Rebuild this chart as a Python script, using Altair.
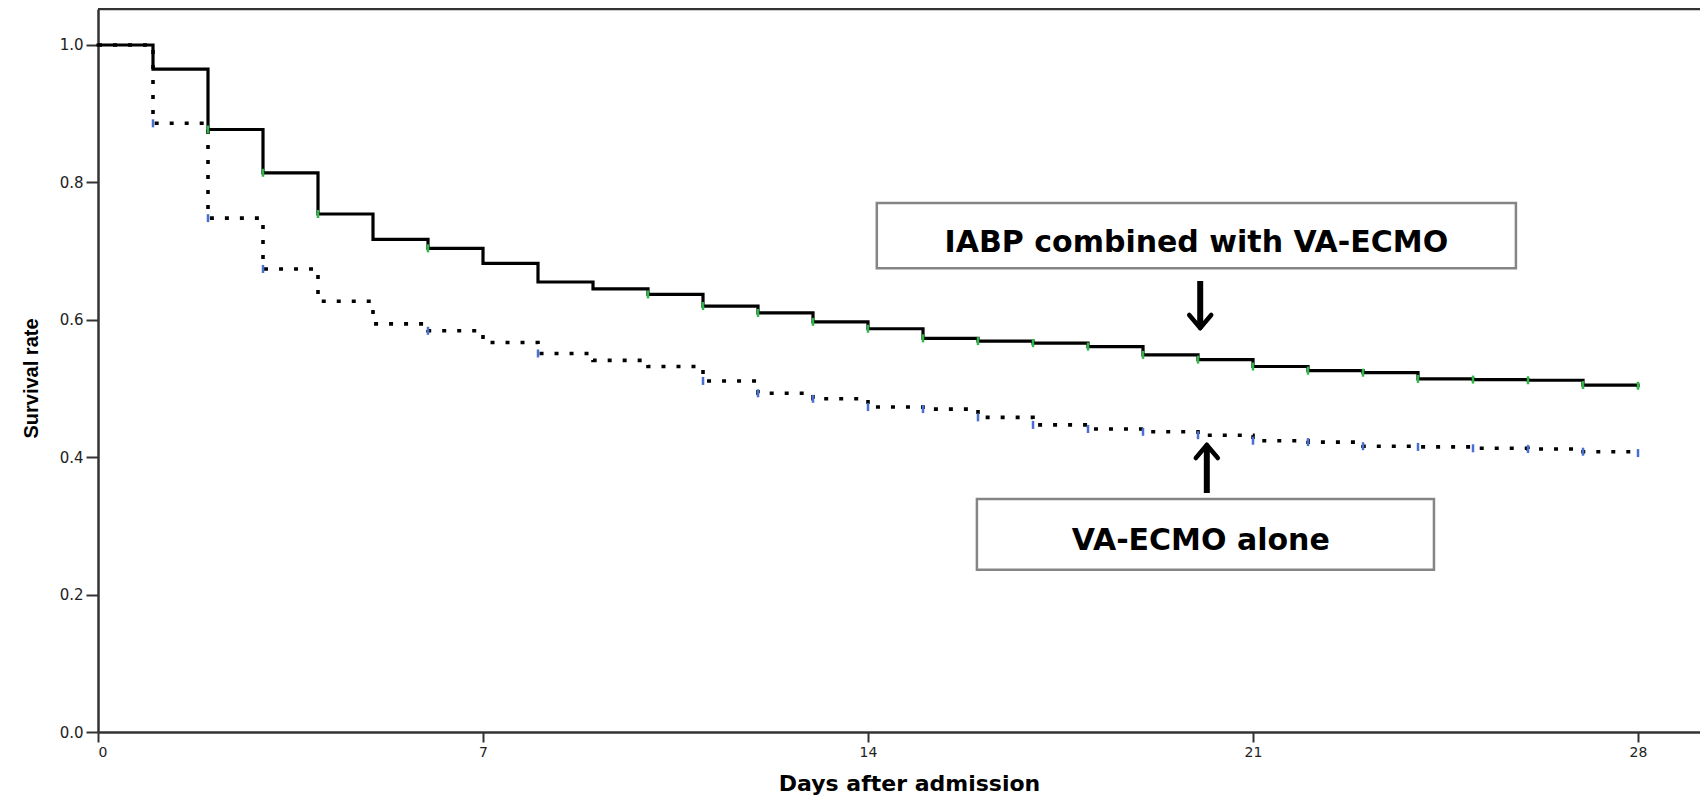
import altair as alt
import pandas as pd

# ---- data ----
days = list(range(29))
surv_combined = [1.0, 0.965, 0.877, 0.814, 0.754, 0.717, 0.704, 0.682, 0.655, 0.645,
                 0.637, 0.620, 0.610, 0.597, 0.587, 0.573, 0.569, 0.566, 0.561, 0.549,
                 0.542, 0.532, 0.526, 0.523, 0.514, 0.513, 0.512, 0.505, 0.504]
surv_alone = [1.0, 0.886, 0.748, 0.674, 0.627, 0.594, 0.584, 0.567, 0.551, 0.541,
              0.532, 0.511, 0.493, 0.485, 0.473, 0.470, 0.458, 0.447, 0.441, 0.437,
              0.432, 0.424, 0.422, 0.416, 0.415, 0.413, 0.412, 0.408, 0.406]
censor_days_combined = [2, 3, 4, 6, 10, 11, 12, 13, 14, 15, 16, 17, 18, 19, 20, 21,
                        22, 23, 24, 25, 26, 27, 28]
censor_days_alone = [1, 2, 3, 6, 8, 11, 12, 13, 14, 15, 16, 17, 18, 19, 20, 21,
                     22, 23, 24, 25, 26, 27, 28]

x_ticks = [0, 7, 14, 21, 28]
y_ticks = [0.0, 0.2, 0.4, 0.6, 0.8, 1.0]
x_domain = [0, 29.127]
y_domain = [0, 1.0524]

# annotation boxes (in data units: day, survival)
box_labels = ["IABP combined with VA-ECMO", "VA-ECMO alone"]
box_x1 = [14.16, 15.98]
box_x2 = [25.78, 24.29]
box_y1 = [0.675, 0.236]
box_y2 = [0.770, 0.339]
label_x = [19.97, 20.05]
label_y = [0.699, 0.265]

# arrows: shaft start (tail) and tip
arrow_x = [20.04, 20.16]
arrow_tail = [0.6565, 0.3479]
arrow_tip = [0.588, 0.4178]
head_dx = 0.2
head_dy = 0.019

W, H = 1602, 723

# ---- tables ----
lines = pd.DataFrame({
    "day": days * 2,
    "surv": surv_combined + surv_alone,
    "group": ["combined"] * len(days) + ["alone"] * len(days),
})
cens_c = pd.DataFrame({"day": censor_days_combined,
                       "surv": [surv_combined[d] for d in censor_days_combined]})
cens_a = pd.DataFrame({"day": censor_days_alone,
                       "surv": [surv_alone[d] for d in censor_days_alone]})
boxes = pd.DataFrame({"day": box_x1, "day2": box_x2, "surv": box_y1, "surv2": box_y2})
labels = pd.DataFrame({"day": label_x, "surv": label_y, "text": box_labels})

shafts = pd.DataFrame({
    "day": arrow_x,
    "surv": arrow_tail,
    # stop shaft just short of the tip so the head forms a point
    "surv2": [arrow_tip[0] + 0.004, arrow_tip[1] - 0.004],
})
heads_rows = []
for ax, tip, tail in zip(arrow_x, arrow_tip, arrow_tail):
    direction = 1 if tail > tip else -1  # head arms go back toward the tail
    for side in (-1, 1):
        heads_rows.append({"day": ax, "surv": tip,
                           "day2": ax + side * head_dx,
                           "surv2": tip + direction * head_dy})
heads = pd.DataFrame(heads_rows)

xs = alt.Scale(domain=x_domain, nice=False, zero=False)
ys = alt.Scale(domain=y_domain, nice=False, zero=False)

x_axis = alt.Axis(values=x_ticks, title="Days after admission", grid=False,
                  labelFont="DejaVu Sans", labelFontSize=14, labelColor="#222",
                  labelPadding=3, tickSize=10, tickWidth=2, tickColor="#333",
                  domainColor="#333", domainWidth=2.5,
                  titleFont="DejaVu Sans", titleFontSize=22, titleFontWeight="bold",
                  titleColor="#000", titleX=811, titleY=58,
                  titleBaseline="alphabetic", titleAlign="center")
y_axis = alt.Axis(values=y_ticks, format=".1f", title="Survival rate", grid=False,
                  labelFont="DejaVu Sans", labelFontSize=15, labelColor="#222",
                  labelPadding=3, tickSize=12, tickWidth=2, tickColor="#333",
                  domainColor="#333", domainWidth=2.5,
                  titleFont="Liberation Sans", titleFontSize=20, titleFontWeight="bold",
                  titleColor="#000", titleAngle=270, titleX=-61, titleY=369,
                  titleBaseline="alphabetic", titleAlign="center")


def X(f="day"):
    return alt.X(f, type="quantitative", scale=xs, axis=x_axis)


def Y(f="surv"):
    return alt.Y(f, type="quantitative", scale=ys, axis=y_axis)


solid = alt.Chart(lines).transform_filter(alt.datum.group == "combined").mark_line(
    interpolate="step-after", color="#000", strokeWidth=3.2, strokeCap="square"
).encode(x=X(), y=Y())

dotted = alt.Chart(lines).transform_filter(alt.datum.group == "alone").mark_line(
    interpolate="step-after", color="#000", strokeWidth=3.6,
    strokeDash=[4, 11], strokeCap="butt"
).encode(x=X(), y=Y())

cens_green = alt.Chart(cens_c).mark_tick(
    orient="vertical", color="#2fb84a", size=8, thickness=2.5, opacity=1
).encode(x=X(), y=Y())
cens_blue = alt.Chart(cens_a).mark_tick(
    orient="vertical", color="#4a6fd0", size=8, thickness=2.5, opacity=1
).encode(x=X(), y=Y())

top_border = alt.Chart(pd.DataFrame({"k": [0]})).mark_rule(
    color="#333", strokeWidth=2.5
).encode(x=alt.value(0), x2=alt.value(W), y=alt.value(0))

box_marks = alt.Chart(boxes).mark_rect(
    fill="white", stroke="#858585", strokeWidth=2.5
).encode(x=X(), x2="day2", y=Y(), y2="surv2")

label_marks = alt.Chart(labels).mark_text(
    font="DejaVu Sans", fontSize=30, fontWeight="bold", color="#000",
    align="center", baseline="alphabetic"
).encode(x=X(), y=Y(), text="text")

shaft_marks = alt.Chart(shafts).mark_rule(color="#000", strokeWidth=6).encode(
    x=X(), y=Y(), y2="surv2")
head_marks = alt.Chart(heads).mark_rule(color="#000", strokeWidth=4.5,
                                        strokeCap="round").encode(
    x=X(), x2="day2", y=Y(), y2="surv2")

chart = alt.layer(
    solid, dotted, cens_green, cens_blue, top_border,
    box_marks, label_marks, shaft_marks, head_marks
).properties(
    width=W, height=H,
    autosize=alt.AutoSizeParams(type="none"),
    padding={"left": 90, "top": 1, "right": 0, "bottom": 64},
).configure_view(stroke=None).configure(background="white")

chart.save("out.html", embed_options={"renderer": "svg", "actions": False})
